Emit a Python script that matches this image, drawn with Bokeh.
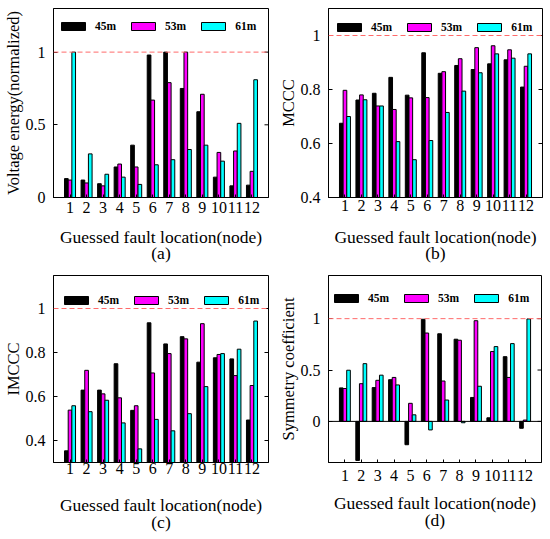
import math
from bokeh.plotting import figure
from bokeh.models import Span, FixedTicker, Range1d, ColumnDataSource
from bokeh.transform import dodge
from bokeh.layouts import column, row
from bokeh.embed import file_html
from bokeh.resources import INLINE

# ---------------- data ----------------
nodes = [1, 2, 3, 4, 5, 6, 7, 8, 9, 10, 11, 12]
node_labels = ["1", "2", "3", "4", "5", "6", "7", "8", "9", "10", "11", "12"]
series_names = ["45m", "53m", "61m"]
series_colors = ["#000000", "#ff00ff", "#00ffff"]
x_title = "Guessed fault location(node)"

# (a) Voltage energy (normalized)
ve_45 = [0.13, 0.12, 0.095, 0.21, 0.36, 0.98, 1.00, 0.75, 0.59, 0.14, 0.08, 0.085]
ve_53 = [0.12, 0.10, 0.08, 0.23, 0.21, 0.67, 0.79, 1.00, 0.71, 0.31, 0.32, 0.18]
ve_61 = [1.00, 0.30, 0.16, 0.14, 0.09, 0.225, 0.26, 0.33, 0.36, 0.25, 0.51, 0.81]

# (b) MCCC
mc_45 = [0.675, 0.761, 0.786, 0.845, 0.779, 0.936, 0.860, 0.889, 0.874, 0.895, 0.910, 0.809]
mc_53 = [0.797, 0.780, 0.739, 0.726, 0.769, 0.770, 0.866, 0.914, 0.955, 0.962, 0.947, 0.886]
mc_61 = [0.700, 0.762, 0.739, 0.607, 0.540, 0.611, 0.715, 0.794, 0.862, 0.932, 0.916, 0.932]

# (c) IMCCC
im_45 = [0.353, 0.629, 0.629, 0.749, 0.537, 0.935, 0.839, 0.872, 0.756, 0.776, 0.771, 0.493]
im_53 = [0.538, 0.719, 0.612, 0.594, 0.558, 0.707, 0.795, 0.862, 0.931, 0.791, 0.695, 0.650]
im_61 = [0.558, 0.531, 0.583, 0.480, 0.362, 0.496, 0.444, 0.522, 0.645, 0.795, 0.815, 0.943]

# (d) Symmetry coefficient
sc_45 = [0.326, -0.38, 0.329, 0.406, -0.227, 0.994, 0.853, 0.800, 0.233, 0.035, 0.630, -0.067]
sc_53 = [0.320, 0.367, 0.400, 0.428, 0.176, 0.860, 0.393, 0.790, 0.980, 0.680, 0.428, 0.013]
sc_61 = [0.498, 0.562, 0.450, 0.355, 0.064, -0.083, 0.208, -0.013, 0.342, 0.728, 0.757, 0.997]

ya_ticks = [0, 0.5, 1]
ya_labels = ["0", "0.5", "1"]
yb_ticks = [0.4, 0.6, 0.8, 1]
yb_labels = ["0.4", "0.6", "0.8", "1"]
yc_ticks = [0.4, 0.6, 0.8, 1]
yc_labels = ["0.4", "0.6", "0.8", "1"]
yd_ticks = [0, 0.5, 1]
yd_labels = ["0", "0.5", "1"]

FONT = "Liberation Serif"
BAR_W = 0.222
OFFSETS = [-0.222, 0.0, 0.222]
X_END = 13


def make_panel(vals, ylabel, yr, yticks, ylabels, caption, w, h, borders,
               legend_xy, zero_line=False, tick_standoff=4, xlab_standoff=11,
               line_h=0.8):
    bl, br, bt, bb = borders
    p = figure(width=w, height=h, x_range=Range1d(0, X_END), y_range=Range1d(*yr),
               output_backend="svg", toolbar_location=None,
               min_border_left=bl, min_border_right=br,
               min_border_top=bt, min_border_bottom=bb)
    p.grid.visible = False
    p.outline_line_color = "#000000"
    p.outline_line_width = 1
    p.background_fill_color = "white"
    p.border_fill_color = "white"

    src = ColumnDataSource(dict(x=nodes, s0=vals[0], s1=vals[1], s2=vals[2]))
    for i, key in enumerate(["s0", "s1", "s2"]):
        p.vbar(x=dodge("x", OFFSETS[i], range=p.x_range), top=key, bottom=0,
               width=BAR_W, source=src, fill_color=series_colors[i],
               line_color="#000000", line_width=1, legend_label=series_names[i])

    p.add_layout(Span(location=1, dimension="width", line_color="#ff6a6a",
                      line_dash="5 3", line_width=1))
    if zero_line:
        p.add_layout(Span(location=0, dimension="width", line_color="#000000",
                          line_width=1))

    # mirrored y ticks on the right edge (inward)
    p.ray(x=[X_END] * len(yticks), y=yticks, length=4, length_units="screen",
          angle=math.pi, line_color="#000000", line_width=1)

    # x axis (axis title + panel caption as a two-line label)
    xa = p.xaxis[0]
    xa.ticker = FixedTicker(ticks=nodes)
    xa.major_label_overrides = {n: lab for n, lab in zip(nodes, node_labels)}
    xa.minor_tick_line_color = None
    xa.major_tick_in = 3
    xa.major_tick_out = 0
    xa.major_label_standoff = tick_standoff
    xa.major_label_text_font = FONT
    xa.major_label_text_font_size = "16px"
    xa.major_label_text_color = "#000000"
    xa.axis_label = x_title + "\n" + caption
    xa.axis_label_text_font = FONT
    xa.axis_label_text_font_size = "17.5px"
    xa.axis_label_text_font_style = "normal"
    xa.axis_label_text_color = "#000000"
    xa.axis_label_text_line_height = line_h
    xa.axis_label_text_align = "center"
    xa.axis_label_standoff = xlab_standoff
    xa.axis_line_color = "#000000"

    # y axis
    ya = p.yaxis[0]
    ya.ticker = FixedTicker(ticks=yticks)
    ya.major_label_overrides = {t: lab for t, lab in zip(yticks, ylabels)}
    ya.minor_tick_line_color = None
    ya.major_tick_in = 4
    ya.major_tick_out = 0
    ya.major_label_standoff = 8
    ya.major_label_text_font = FONT
    ya.major_label_text_font_size = "16px"
    ya.major_label_text_color = "#000000"
    ya.axis_label = ylabel
    ya.axis_label_text_font = FONT
    ya.axis_label_text_font_size = "16.5px"
    ya.axis_label_text_font_style = "normal"
    ya.axis_label_text_color = "#000000"
    ya.axis_label_standoff = 0
    ya.axis_line_color = "#000000"

    lg = p.legend[0]
    lg.orientation = "horizontal"
    lg.location = legend_xy
    lg.glyph_width = 30
    lg.glyph_height = 10
    lg.label_height = 10
    lg.label_width = 10
    lg.label_standoff = 7
    lg.spacing = 12
    lg.padding = 0
    lg.margin = 0
    lg.border_line_alpha = 0
    lg.background_fill_alpha = 0
    lg.label_text_font = FONT
    lg.label_text_font_size = "11.5px"
    lg.label_text_font_style = "bold"
    lg.label_text_color = "#000000"
    return p


pa = make_panel([ve_45, ve_53, ve_61], "Voltage energy(normalized)", (0, 1.3),
                ya_ticks, ya_labels, "(a)", 275, 270, (50, 7, 8, 73), (5, 165),
                tick_standoff=4, xlab_standoff=11, line_h=0.8)
pb = make_panel([mc_45, mc_53, mc_61], "MCCC", (0.4, 1.1),
                yb_ticks, yb_labels, "(b)", 275, 270, (50, 8, 8, 73), (6, 164),
                tick_standoff=2, xlab_standoff=13, line_h=0.8)
pc = make_panel([im_45, im_53, im_61], "IMCCC", (0.3, 1.15),
                yc_ticks, yc_labels, "(c)", 275, 269, (50, 7, 5, 77), (8, 156),
                tick_standoff=0, xlab_standoff=18, line_h=0.85)
pd = make_panel([sc_45, sc_53, sc_61], "Symmetry coefficient", (-0.4, 1.42),
                yd_ticks, yd_labels, "(d)", 275, 269, (50, 9, 5, 75), (3, 158),
                zero_line=True, tick_standoff=7, xlab_standoff=9, line_h=0.85)

layout = column(row(pa, pb), row(pc, pd))
open("out.html", "w").write(file_html(layout, INLINE))
